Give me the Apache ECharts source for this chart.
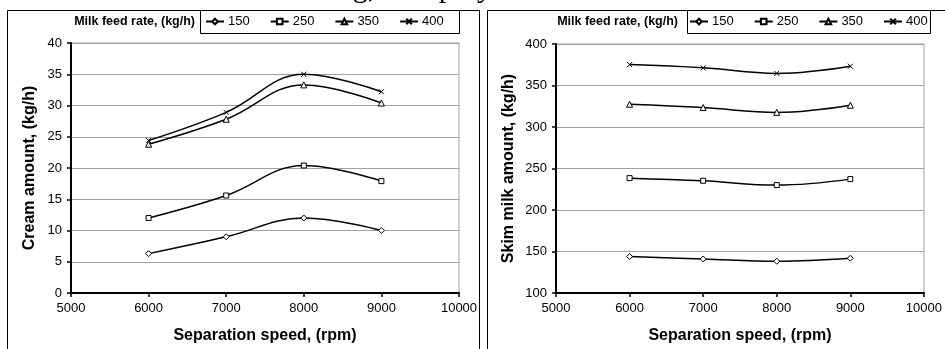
<!DOCTYPE html>
<html>
<head>
<meta charset="utf-8">
<script src="https://cdn.jsdelivr.net/npm/echarts@6/dist/echarts.min.js"></script>
<style>
  html, body { margin: 0; padding: 0; background: #fff; }
  #chart { width: 945px; height: 349px; }
</style>
</head>
<body>
<div id="chart"></div>
<script>
// Separation speed (rpm) at which both quantities were measured
const speeds = [6000, 7000, 8000, 9000];
// Milk feed rates, kg/h (one curve each)
const feedRates = ['150', '250', '350', '400'];

// Cream amount, kg/h
const cream150 = [6.3, 9.0, 12.0, 10.0];
const cream250 = [12.0, 15.6, 20.4, 17.9];
const cream350 = [23.8, 27.8, 33.3, 30.4];
const cream400 = [24.4, 28.9, 35.0, 32.2];

// Skim milk amount, kg/h
const skim150 = [143.9, 141.0, 138.3, 141.9];
const skim250 = [238.4, 235.2, 230.0, 237.2];
const skim350 = [327.4, 323.4, 317.6, 326.2];
const skim400 = [375.2, 371.3, 364.6, 373.2];

// Axis tick settings
const speedTicks = { min: 5000, max: 10000, step: 1000 };
const creamTicks = { min: 0, max: 40, step: 5 };
const skimTicks = { min: 100, max: 400, step: 50 };

const FONT = '"Liberation Sans", Arial, sans-serif';
const markers = {
  '150': { symbol: 'diamond', size: 6 },
  '250': { symbol: 'rect', size: 5 },
  '350': { symbol: 'triangle', size: 6 },
  '400': { symbol: 'path://M0,0L10,10M10,0L0,10', size: 5 }
};

function pairs(ys) {
  return speeds.map((x, i) => [x, ys[i]]);
}

function lineSeries(name, ys, axisIndex) {
  const m = markers[name];
  return {
    name: name,
    type: 'line',
    xAxisIndex: axisIndex,
    yAxisIndex: axisIndex,
    data: pairs(ys),
    smooth: 0.4,
    symbol: m.symbol,
    symbolSize: m.size,
    showAllSymbol: true,
    lineStyle: { color: '#000', width: 1.5 },
    itemStyle: { color: '#fff', borderColor: '#000', borderWidth: 1 },
    emphasis: { disabled: true },
    z: 3
  };
}

function plainNumber(v) {
  return String(v);
}

function xAxisDef(gridIndex) {
  return {
    type: 'value',
    gridIndex: gridIndex,
    min: speedTicks.min,
    max: speedTicks.max,
    interval: speedTicks.step,
    name: 'Separation speed, (rpm)',
    nameLocation: 'middle',
    nameGap: 35,
    nameTextStyle: { fontFamily: FONT, fontSize: 16, fontWeight: 'bold', color: '#000' },
    axisLine: { show: true, onZero: false, lineStyle: { color: '#000', width: 2 } },
    axisTick: { show: true, length: 4, lineStyle: { color: '#000', width: 1.5 } },
    axisLabel: { margin: 9, fontFamily: FONT, fontSize: 13, color: '#000', formatter: plainNumber },
    splitLine: { show: false }
  };
}

function yAxisDef(gridIndex, ticks, title, gap) {
  return {
    type: 'value',
    gridIndex: gridIndex,
    min: ticks.min,
    max: ticks.max,
    interval: ticks.step,
    name: title,
    nameLocation: 'middle',
    nameGap: gap,
    nameTextStyle: { fontFamily: FONT, fontSize: 16, fontWeight: 'bold', color: '#000' },
    axisLine: { show: true, lineStyle: { color: '#000', width: 2 } },
    axisTick: { show: true, length: 4, lineStyle: { color: '#000', width: 1.5 } },
    axisLabel: { margin: 9, fontFamily: FONT, fontSize: 13, color: '#000', formatter: plainNumber },
    splitLine: { show: true, lineStyle: { color: '#a0a0a0', width: 1 } }
  };
}

function legendDef(left) {
  return {
    data: feedRates,
    left: left,
    top: 15,
    padding: 0,
    itemWidth: 18,
    itemHeight: 7,
    itemGap: 20,
    selectedMode: false,
    textStyle: { fontFamily: FONT, fontSize: 13, color: '#000', padding: [0, 0, 0, -1] }
  };
}

const chart = echarts.init(document.getElementById('chart'), null, { renderer: 'canvas' });

chart.setOption({
  backgroundColor: '#fff',
  animation: false,
  grid: [
    { left: 71, right: 486, top: 43, bottom: 54, show: true, borderColor: '#a0a0a0', borderWidth: 1, backgroundColor: 'transparent' },
    { left: 556, right: 15, top: 44, bottom: 54, show: true, borderColor: '#a0a0a0', borderWidth: 1, backgroundColor: 'transparent' }
  ],
  xAxis: [xAxisDef(0), xAxisDef(1)],
  yAxis: [
    yAxisDef(0, creamTicks, 'Cream amount, (kg/h)', 33),
    yAxisDef(1, skimTicks, 'Skim milk amount, (kg/h)', 39)
  ],
  legend: [legendDef(205), legendDef(689)],
  series: [
    lineSeries('150', cream150, 0),
    lineSeries('250', cream250, 0),
    lineSeries('350', cream350, 0),
    lineSeries('400', cream400, 0),
    lineSeries('150', skim150, 1),
    lineSeries('250', skim250, 1),
    lineSeries('350', skim350, 1),
    lineSeries('400', skim400, 1)
  ],
  graphic: [
    // tail of the preceding caption line
    {
      type: 'text', x: 492, y: -11, silent: true,
      style: { text: 'Amounts of cream and skim milk at the outlet while running, the spray',
        font: '30px "Liberation Serif", "Times New Roman", serif', fill: '#000',
        textAlign: 'right', textVerticalAlign: 'middle' }
    },
    // chart frames
    { type: 'rect', shape: { x: 7.5, y: 10.5, width: 472, height: 360 }, silent: true,
      style: { fill: 'none', stroke: '#000', lineWidth: 1 }, z: 0 },
    { type: 'rect', shape: { x: 487.5, y: 10.5, width: 470, height: 360 }, silent: true,
      style: { fill: 'none', stroke: '#000', lineWidth: 1 }, z: 0 },
    // legend boxes
    { type: 'rect', shape: { x: 200.5, y: 10.5, width: 259, height: 23 }, silent: true,
      style: { fill: '#fff', stroke: '#000', lineWidth: 1 }, z: 1 },
    { type: 'rect', shape: { x: 687.5, y: 10.5, width: 243, height: 23 }, silent: true,
      style: { fill: '#fff', stroke: '#000', lineWidth: 1 }, z: 1 },
    // legend titles
    { type: 'text', x: 195, y: 22, silent: true,
      style: { text: 'Milk feed rate, (kg/h)', font: 'bold 12.5px "Liberation Sans", Arial, sans-serif',
        fill: '#000', textAlign: 'right', textVerticalAlign: 'middle' } },
    { type: 'text', x: 678, y: 22, silent: true,
      style: { text: 'Milk feed rate, (kg/h)', font: 'bold 12.5px "Liberation Sans", Arial, sans-serif',
        fill: '#000', textAlign: 'right', textVerticalAlign: 'middle' } }
  ]
});
</script>
</body>
</html>
